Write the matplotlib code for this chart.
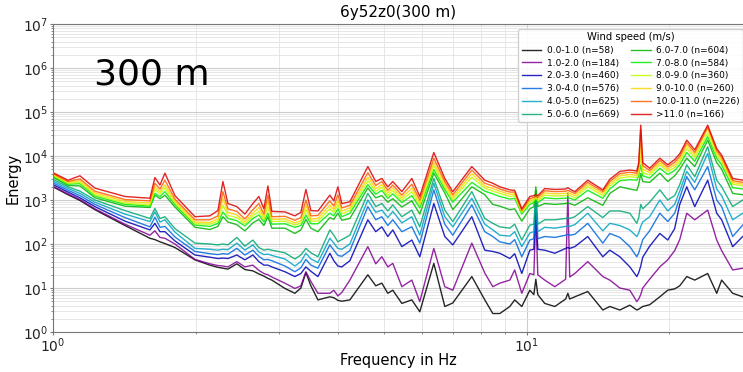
import numpy as np
import matplotlib.pyplot as plt
from matplotlib.ticker import LogLocator, NullFormatter

# frequency (Hz) of the read points
freq = [1.000, 1.076, 1.140, 1.226, 1.419, 1.602, 1.641, 1.682, 1.723, 1.809,
        1.994, 2.144, 2.229, 2.284, 2.340, 2.444, 2.541, 2.642, 2.720, 2.787,
        2.842, 2.897, 3.087, 3.240, 3.336, 3.418, 3.502, 3.624, 3.840, 3.915,
        3.993, 4.071, 4.233, 4.619, 4.800, 4.944, 5.090, 5.215, 5.449, 5.720,
        5.946, 6.365, 6.714, 6.980, 7.656, 8.154, 8.478, 8.770, 9.210, 9.430,
        9.760, 10.15, 10.35, 10.45, 10.55, 10.91, 11.46, 12.08, 12.21, 12.32,
        12.63, 13.45, 14.47, 14.97, 15.72, 16.50, 17.07, 17.23, 17.40, 17.57,
        18.17, 19.09, 19.84, 20.52, 21.03, 21.76, 22.62, 24.09, 25.17, 25.78,
        27.20, 28.56]

labels = ["0.0-1.0 (n=58)", "1.0-2.0 (n=184)", "2.0-3.0 (n=460)", "3.0-4.0 (n=576)",
          "4.0-5.0 (n=625)", "5.0-6.0 (n=669)", "6.0-7.0 (n=604)", "7.0-8.0 (n=584)",
          "8.0-9.0 (n=360)", "9.0-10.0 (n=260)", "10.0-11.0 (n=226)", ">11.0 (n=166)"]

# log10(Energy)
ws_0_1 = [3.30, 3.12, 2.99, 2.78, 2.42, 2.13, 2.10, 2.05, 2.01, 1.92,
          1.64, 1.52, 1.47, 1.45, 1.43, 1.55, 1.42, 1.39, 1.32, 1.27,
          1.22, 1.18, 0.99, 0.88, 1.00, 1.35, 1.05, 0.73, 0.80, 0.78,
          0.72, 0.70, 0.73, 1.30, 1.05, 1.11, 0.88, 0.95, 0.65, 0.73,
          0.46, 1.56, 0.58, 0.66, 1.26, 0.73, 0.42, 0.42, 0.58, 0.73,
          0.58, 0.95, 0.85, 1.20, 0.85, 0.65, 0.58, 0.75, 0.88, 0.75,
          0.80, 0.92, 0.50, 0.58, 0.50, 0.61, 0.50, 0.52, 0.55, 0.58,
          0.62, 0.80, 0.95, 0.98, 1.05, 1.26, 1.18, 1.33, 0.88, 1.18,
          0.88, 0.80]
ws_1_2 = [3.31, 3.14, 3.01, 2.80, 2.45, 2.20, 2.30, 2.15, 2.13, 2.00,
          1.65, 1.55, 1.51, 1.50, 1.48, 1.60, 1.48, 1.52, 1.40, 1.33,
          1.30, 1.25, 1.11, 0.99, 1.05, 1.37, 1.15, 0.88, 0.88, 0.95,
          0.82, 0.90, 1.18, 1.94, 1.55, 1.71, 1.48, 1.56, 1.03, 1.18,
          0.69, 1.90, 1.03, 0.95, 2.02, 1.34, 1.03, 1.11, 1.18, 1.41,
          0.88, 1.33, 1.30, 2.70, 1.30, 1.18, 1.03, 1.20, 3.15, 1.25,
          1.33, 1.60, 1.26, 1.18, 1.00, 0.95, 0.69, 0.75, 0.85, 1.00,
          1.20, 1.48, 1.64, 1.85, 2.10, 2.70, 2.55, 2.77, 2.09, 1.85,
          1.41, 1.45]
ws_2_3 = [3.35, 3.18, 3.05, 2.85, 2.52, 2.32, 2.47, 2.28, 2.28, 2.07,
          1.75, 1.70, 1.67, 1.68, 1.67, 1.75, 1.64, 1.75, 1.60, 1.52,
          1.52, 1.48, 1.37, 1.26, 1.33, 1.48, 1.38, 1.26, 1.79, 1.62,
          1.50, 1.48, 1.62, 2.55, 2.28, 2.39, 2.17, 2.32, 1.94, 2.09,
          1.71, 2.92, 2.17, 1.98, 2.62, 1.86, 1.83, 1.79, 1.67, 1.78,
          1.33, 1.86, 1.88, 2.90, 1.88, 1.86, 1.79, 1.90, 1.92, 1.90,
          1.94, 2.17, 1.71, 1.86, 1.71, 1.48, 1.26, 1.35, 1.50, 1.70,
          1.95, 2.24, 2.09, 2.35, 2.90, 3.30, 2.85, 3.45, 2.70, 2.55,
          1.94, 2.17]
ws_3_4 = [3.39, 3.22, 3.10, 2.90, 2.60, 2.39, 2.61, 2.38, 2.40, 2.16,
          1.83, 1.78, 1.76, 1.78, 1.77, 1.90, 1.75, 1.86, 1.72, 1.64,
          1.65, 1.62, 1.50, 1.37, 1.46, 1.65, 1.52, 1.45, 1.98, 1.86,
          1.74, 1.72, 1.85, 2.85, 2.55, 2.62, 2.42, 2.55, 2.28, 2.39,
          2.02, 3.23, 2.45, 2.20, 2.89, 2.28, 2.17, 2.05, 2.00, 2.10,
          1.71, 2.09, 2.12, 3.00, 2.12, 2.17, 2.15, 2.20, 2.22, 2.20,
          2.22, 2.47, 2.02, 2.24, 2.15, 1.94, 1.71, 1.80, 1.95, 2.10,
          2.30, 2.70, 2.51, 2.70, 3.05, 3.53, 3.23, 3.76, 3.00, 2.85,
          2.17, 2.43]
ws_4_5 = [3.43, 3.26, 3.15, 2.95, 2.68, 2.51, 2.73, 2.50, 2.55, 2.27,
          1.90, 1.88, 1.86, 1.88, 1.87, 2.02, 1.86, 1.98, 1.82, 1.76,
          1.77, 1.74, 1.66, 1.50, 1.60, 1.79, 1.66, 1.58, 2.13, 2.02,
          1.90, 1.88, 2.00, 3.00, 2.72, 2.77, 2.60, 2.74, 2.48, 2.62,
          2.20, 3.38, 2.62, 2.39, 3.04, 2.45, 2.32, 2.20, 2.18, 2.28,
          1.94, 2.25, 2.28, 3.10, 2.28, 2.38, 2.36, 2.40, 2.42, 2.40,
          2.44, 2.70, 2.30, 2.47, 2.42, 2.32, 2.17, 2.25, 2.40, 2.50,
          2.62, 3.00, 2.75, 2.90, 3.20, 3.65, 3.40, 4.06, 3.25, 3.10,
          2.55, 2.70]
ws_5_6 = [3.47, 3.30, 3.20, 3.00, 2.76, 2.58, 2.81, 2.58, 2.62, 2.35,
          2.02, 2.00, 1.98, 2.00, 1.98, 2.15, 1.95, 2.09, 1.92, 1.86,
          1.88, 1.86, 1.80, 1.66, 1.75, 1.90, 1.80, 1.71, 2.32, 2.20,
          2.05, 2.10, 2.20, 3.15, 2.85, 2.92, 2.75, 2.89, 2.62, 2.77,
          2.39, 3.49, 2.77, 2.51, 3.19, 2.58, 2.47, 2.39, 2.36, 2.45,
          2.09, 2.43, 2.45, 3.20, 2.45, 2.55, 2.55, 2.58, 2.60, 2.58,
          2.62, 2.85, 2.60, 2.75, 2.75, 2.70, 2.47, 2.60, 2.90, 2.80,
          2.95, 3.23, 3.00, 3.10, 3.35, 3.80, 3.53, 4.21, 3.45, 3.30,
          2.85, 3.00]
ws_6_7 = [3.52, 3.33, 3.32, 3.05, 2.86, 2.83, 3.11, 3.03, 3.11, 2.84,
          2.38, 2.33, 2.40, 2.62, 2.50, 2.44, 2.30, 2.48, 2.56, 2.42,
          2.62, 2.36, 2.36, 2.24, 2.32, 2.56, 2.36, 2.28, 2.60, 2.56,
          2.70, 2.54, 2.58, 3.27, 3.05, 3.10, 2.95, 3.03, 2.84, 2.98,
          2.68, 3.61, 3.16, 2.78, 3.30, 3.12, 2.90, 2.86, 2.78, 2.80,
          2.52, 2.80, 2.85, 3.30, 2.85, 2.92, 2.90, 2.92, 2.94, 2.92,
          2.88, 3.05, 2.88, 3.15, 3.30, 3.25, 3.22, 3.35, 3.60, 3.42,
          3.40, 3.61, 3.42, 3.55, 3.70, 3.95, 3.76, 4.36, 3.85, 3.70,
          3.15, 3.12]
ws_7_8 = [3.55, 3.36, 3.37, 3.09, 2.90, 2.86, 3.15, 3.08, 3.19, 2.89,
          2.43, 2.40, 2.47, 2.73, 2.58, 2.53, 2.41, 2.58, 2.66, 2.50,
          2.70, 2.45, 2.46, 2.38, 2.42, 2.66, 2.46, 2.46, 2.70, 2.64,
          2.80, 2.62, 2.70, 3.35, 3.13, 3.22, 3.04, 3.14, 2.94, 3.10,
          2.82, 3.69, 3.24, 2.95, 3.40, 3.20, 3.14, 3.08, 3.02, 3.04,
          2.68, 2.90, 2.94, 3.10, 2.94, 3.05, 3.03, 3.04, 3.06, 3.04,
          3.00, 3.22, 3.04, 3.25, 3.44, 3.46, 3.45, 3.55, 3.80, 3.55,
          3.50, 3.72, 3.58, 3.67, 3.80, 4.08, 3.88, 4.44, 3.95, 3.80,
          3.28, 3.25]
ws_8_9 = [3.56, 3.38, 3.40, 3.12, 2.93, 2.89, 3.24, 3.14, 3.27, 2.93,
          2.46, 2.45, 2.52, 2.88, 2.65, 2.60, 2.46, 2.64, 2.74, 2.55,
          2.84, 2.51, 2.52, 2.43, 2.48, 2.78, 2.52, 2.52, 2.80, 2.72,
          2.90, 2.69, 2.76, 3.44, 3.20, 3.29, 3.10, 3.21, 3.00, 3.19,
          2.89, 3.77, 3.30, 3.01, 3.52, 3.27, 3.20, 3.15, 3.08, 3.10,
          2.72, 2.95, 2.98, 3.05, 2.98, 3.11, 3.09, 3.10, 3.12, 3.10,
          3.05, 3.30, 3.10, 3.32, 3.50, 3.53, 3.51, 3.62, 4.00, 3.62,
          3.57, 3.80, 3.65, 3.74, 3.87, 4.17, 3.96, 4.52, 4.02, 3.87,
          3.36, 3.32]
ws_9_10 = [3.58, 3.40, 3.44, 3.16, 2.97, 2.93, 3.30, 3.19, 3.34, 2.97,
           2.50, 2.49, 2.57, 3.04, 2.72, 2.66, 2.51, 2.70, 2.83, 2.61,
           2.98, 2.56, 2.57, 2.48, 2.53, 2.88, 2.57, 2.58, 2.88, 2.78,
           3.00, 2.75, 2.82, 3.52, 3.26, 3.35, 3.16, 3.27, 3.05, 3.27,
           2.94, 3.85, 3.36, 3.06, 3.60, 3.32, 3.26, 3.20, 3.13, 3.14,
           2.74, 2.99, 3.02, 3.06, 3.02, 3.16, 3.14, 3.15, 3.17, 3.15,
           3.10, 3.35, 3.15, 3.37, 3.55, 3.58, 3.56, 3.70, 4.25, 3.70,
           3.62, 3.85, 3.70, 3.80, 3.93, 4.24, 4.02, 4.62, 4.07, 3.92,
           3.40, 3.36]
ws_10_11 = [3.60, 3.42, 3.48, 3.20, 3.01, 2.98, 3.38, 3.25, 3.45, 3.02,
            2.55, 2.55, 2.64, 3.19, 2.80, 2.74, 2.57, 2.78, 2.92, 2.68,
            3.11, 2.62, 2.63, 2.54, 2.60, 3.00, 2.64, 2.65, 2.98, 2.86,
            3.12, 2.82, 2.88, 3.62, 3.33, 3.42, 3.22, 3.34, 3.11, 3.36,
            3.00, 3.95, 3.42, 3.12, 3.68, 3.38, 3.32, 3.25, 3.18, 3.18,
            2.76, 3.03, 3.06, 3.08, 3.06, 3.21, 3.19, 3.20, 3.22, 3.20,
            3.15, 3.40, 3.19, 3.42, 3.60, 3.63, 3.61, 3.78, 4.60, 3.78,
            3.67, 3.90, 3.75, 3.86, 3.99, 4.30, 4.08, 4.66, 4.12, 3.97,
            3.44, 3.40]
ws_11_up = [3.62, 3.45, 3.55, 3.27, 3.08, 3.04, 3.51, 3.34, 3.61, 3.10,
            2.62, 2.64, 2.76, 3.42, 2.92, 2.85, 2.68, 2.92, 3.08, 2.80,
            3.32, 2.74, 2.73, 2.64, 2.72, 3.24, 2.76, 2.75, 3.11, 2.98,
            3.30, 2.92, 2.96, 3.76, 3.42, 3.49, 3.30, 3.42, 3.19, 3.49,
            3.08, 4.08, 3.49, 3.19, 3.76, 3.45, 3.38, 3.30, 3.23, 3.22,
            2.80, 3.08, 3.10, 3.12, 3.10, 3.26, 3.24, 3.25, 3.28, 3.25,
            3.19, 3.45, 3.23, 3.47, 3.65, 3.68, 3.66, 3.85, 4.70, 3.85,
            3.72, 3.95, 3.80, 3.92, 4.05, 4.36, 4.14, 4.70, 4.17, 4.02,
            3.49, 3.45]

series = [ws_0_1, ws_1_2, ws_2_3, ws_3_4, ws_4_5, ws_5_6,
          ws_6_7, ws_7_8, ws_8_9, ws_9_10, ws_10_11, ws_11_up]

colors = plt.cm.nipy_spectral(np.linspace(0, 0.9, len(series)))

fig = plt.figure(figsize=(7.43, 3.72), dpi=100)
ax = fig.add_axes([0.0713, 0.1075, 0.9287, 0.828])

for i in range(len(series)):
    ax.plot(freq, 10 ** np.array(series[i]), color=colors[i], lw=1.0,
            alpha=0.85, label=labels[i])

ax.set_xscale("log")
ax.set_yscale("log")
ax.set_xlim(1, 28.6)
ax.set_ylim(1, 1e7)
ax.yaxis.set_major_locator(LogLocator(base=10, numticks=12))
ax.yaxis.set_minor_locator(LogLocator(base=10, subs=np.arange(2, 10), numticks=12))
ax.yaxis.set_minor_formatter(NullFormatter())
ax.xaxis.set_minor_formatter(NullFormatter())
ax.grid(True, which="major", color="#cccccc", lw=0.8)
ax.grid(True, which="minor", color="#e3e3e3", lw=0.6)
ax.set_axisbelow(True)
ax.spines["right"].set_visible(False)
for s in ["left", "bottom", "top"]:
    ax.spines[s].set_color("#777777")
ax.tick_params(which="both", colors="#777777", labelcolor="#222222")
ax.tick_params(axis="y", which="major", labelsize=10, length=2.5, pad=1)
ax.tick_params(axis="x", which="major", labelsize=10, length=2.5, pad=1)
ax.tick_params(which="minor", length=1.5)

ax.set_title("6y52z0(300 m)", fontsize=11, pad=5)
ax.set_xlabel("Frequency in Hz", fontsize=10.5)
ax.set_ylabel("Energy", fontsize=10.5)
ax.xaxis.set_label_coords(0.5, -0.068)
ax.yaxis.set_label_coords(-0.047, 0.5)
ax.text(0.06, 0.835, "300 m", transform=ax.transAxes, fontsize=26, va="center")

leg = ax.legend(title="Wind speed (m/s)", ncol=2, fontsize=6.5, title_fontsize=7.2,
                loc="upper left", bbox_to_anchor=(0.672, 0.99),
                handlelength=2.2, handletextpad=0.6, columnspacing=1.3,
                labelspacing=0.42, borderpad=0.35, framealpha=0.9,
                borderaxespad=0.2)

plt.savefig("out.png", dpi=100)
